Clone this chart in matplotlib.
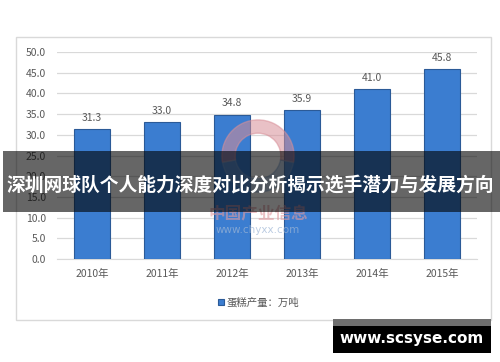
import numpy as np
import matplotlib
matplotlib.use("Agg")
import matplotlib.pyplot as plt
from matplotlib.patches import Rectangle, Wedge

plt.rcParams['font.family'] = ['Noto Sans CJK SC', 'DejaVu Sans']

# chart data
years = ['2010年', '2011年', '2012年', '2013年', '2014年', '2015年']
output = [31.3, 33.0, 34.8, 35.9, 41.0, 45.8]
y_ticks = [0, 5, 10, 15, 20, 25, 30, 35, 40, 45, 50]
legend_label = '蛋糕产量：万吨'
banner_text = '深圳网球队个人能力深度对比分析揭示选手潜力与发展方向'
site_text = 'www.scsyse.com'

W, H = 500, 362
fig = plt.figure(figsize=(W / 100, H / 100), dpi=100)
fig.patch.set_facecolor('white')

def px(x0, y0, x1, y1):
    # pixel box -> figure fraction rect
    return [x0 / W, 1 - y1 / H, (x1 - x0) / W, (y1 - y0) / H]

# chart frame
r = px(16, 37, 491, 320)
fig.patches.append(Rectangle((r[0], r[1]), r[2], r[3], transform=fig.transFigure,
                             fill=False, edgecolor='#d9d9d9', lw=1))

ax = fig.add_axes(px(57, 52, 477, 259))
x = np.arange(len(years))
ax.bar(x, output, width=0.52, color='#3b7dd0', edgecolor='#2b5a97',
       linewidth=0.8, zorder=3, label=legend_label)
for xi, v in zip(x, output):
    ax.text(xi, v + 1.6, f'{v:.1f}', ha='center', va='bottom',
            fontsize=7.5, color='#595959')

ax.set_xlim(-0.5, len(years) - 0.5)
ax.set_ylim(0, 50)
ax.set_yticks(y_ticks)
ax.set_yticklabels([f'{t:.1f}' for t in y_ticks])
ax.set_xticks(x)
ax.set_xticklabels(years)
ax.tick_params(axis='both', length=0, labelsize=7.5, colors='#595959')
ax.tick_params(axis='y', pad=8)
ax.tick_params(axis='x', pad=7)
ax.grid(axis='y', color='#d9d9d9', lw=0.9, zorder=0)
for s in ['top', 'right', 'left']:
    ax.spines[s].set_visible(False)
ax.spines['bottom'].set_color('#d9d9d9')

ax.legend(loc='upper center', bbox_to_anchor=(0.48, -0.14), frameon=False,
          fontsize=7.5, handlelength=0.6, handleheight=0.6, handletextpad=0.2,
          labelcolor='#595959')

# faint watermark logo (square axes so the ring stays round)
wm = fig.add_axes(px(220, 118, 296, 194), zorder=5)
wm.set_xlim(-1, 1)
wm.set_ylim(-1, 1)
wm.axis('off')
wm.patch.set_alpha(0)
wm.add_patch(Wedge((0, 0), 0.95, -10, 190, width=0.35, color='#d88f98', alpha=0.55))
wm.add_patch(Wedge((0, 0), 0.95, 190, 350, width=0.35, color='#7fa3cf', alpha=0.45))
fig.text(258 / W, 1 - 213 / H, '中国产业信息', ha='center', va='center', fontsize=12,
         color='#e09aa0', alpha=0.6, weight='bold', zorder=5)
fig.text(258 / W, 1 - 230 / H, 'www.chyxx.com', ha='center', va='center', fontsize=7.5,
         color='#9fb7d6', alpha=0.7, zorder=5, family=['DejaVu Sans'])

# banner overlay
b = px(3, 151, 500, 212)
fig.patches.append(Rectangle((b[0], b[1]), b[2], b[3], transform=fig.transFigure,
                             facecolor='black', alpha=0.6, edgecolor='none', zorder=10))
fig.text(250 / W, 1 - 185 / H, banner_text, ha='center', va='center',
         fontsize=13.5, color='white', weight='bold', zorder=11)

# site box
g = px(333, 319, 491, 326)
fig.patches.append(Rectangle((g[0], g[1]), g[2], g[3], transform=fig.transFigure,
                             facecolor='#6e6e6e', edgecolor='none', zorder=10))
k = px(333, 326, 491, 353)
fig.patches.append(Rectangle((k[0], k[1]), k[2], k[3], transform=fig.transFigure,
                             facecolor='black', edgecolor='none', zorder=10))
fig.text(412 / W, 1 - 338 / H, site_text, ha='center', va='center',
         fontsize=11, color='white', weight='bold', zorder=11,
         family=['DejaVu Sans'])

fig.savefig('out.png', dpi=100)
